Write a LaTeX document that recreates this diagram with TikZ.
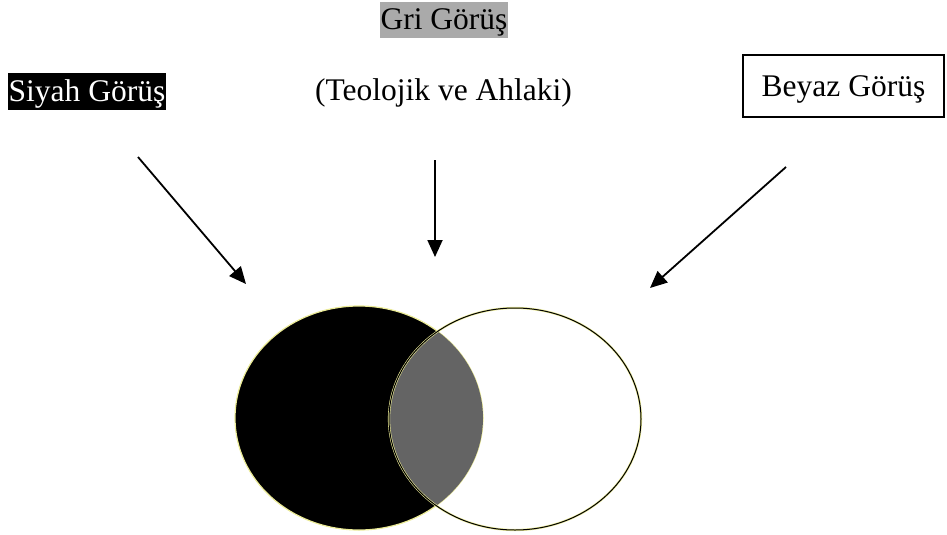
\documentclass[tikz,border=0pt]{standalone}
\usepackage{fontspec}
\setmainfont{Liberation Serif}
\usetikzlibrary{arrows.meta}
\definecolor{interGray}{RGB}{100,100,100}
\definecolor{halo}{RGB}{235,235,150}
\tikzset{
  lbl/.style={font=\fontsize{31.5}{36}\selectfont, inner sep=0pt, text height=25pt, text depth=5pt},
  arr/.style={line width=1.8pt, -{Triangle[length=17pt,width=15pt]}},
}
\begin{document}
\begin{tikzpicture}[x=1pt,y=-1pt]
\useasboundingbox (0,0) rectangle (947,535);
% labels
\node[lbl, fill=black, text=white, minimum width=158pt, minimum height=37pt] (siyah) at (87,91.5) {Siyah Görüş};
\node[lbl, fill={rgb,255:red,170;green,170;blue,170}, minimum width=128pt, minimum height=36pt] (gri) at (444,20) {Gri Görüş};
\node[lbl, anchor=base] (teo) at (443.5,100) {(Teolojik ve Ahlaki)};
\node[lbl, draw=black, line width=1.5pt, minimum width=201pt, minimum height=62pt] (beyaz) at (843.5,86) {Beyaz Görüş};
% arrow endpoints
\coordinate (a1s) at (138,157);
\coordinate (a1e) at (246,284);
\coordinate (a2s) at (435,160);
\coordinate (a2e) at (435,257);
\coordinate (a3s) at (786,167);
\coordinate (a3e) at (650,288);
\draw[arr] (a1s) -- (a1e);
\draw[arr] (a2s) -- (a2e);
\draw[arr] (a3s) -- (a3e);
% Venn
\coordinate (cb) at (359,418);
\coordinate (cw) at (515,419);
\fill[black, draw=halo, line width=1.2pt] (cb) ellipse [x radius=124, y radius=112];
\begin{scope}
  \clip (cb) ellipse [x radius=124, y radius=112];
  \fill[interGray] (cw) ellipse [x radius=126, y radius=111];
\end{scope}
\draw[halo, line width=2.2pt] (cw) ellipse [x radius=126, y radius=111];
\draw[black, line width=1pt] (cw) ellipse [x radius=126, y radius=111];
\end{tikzpicture}
\end{document}
